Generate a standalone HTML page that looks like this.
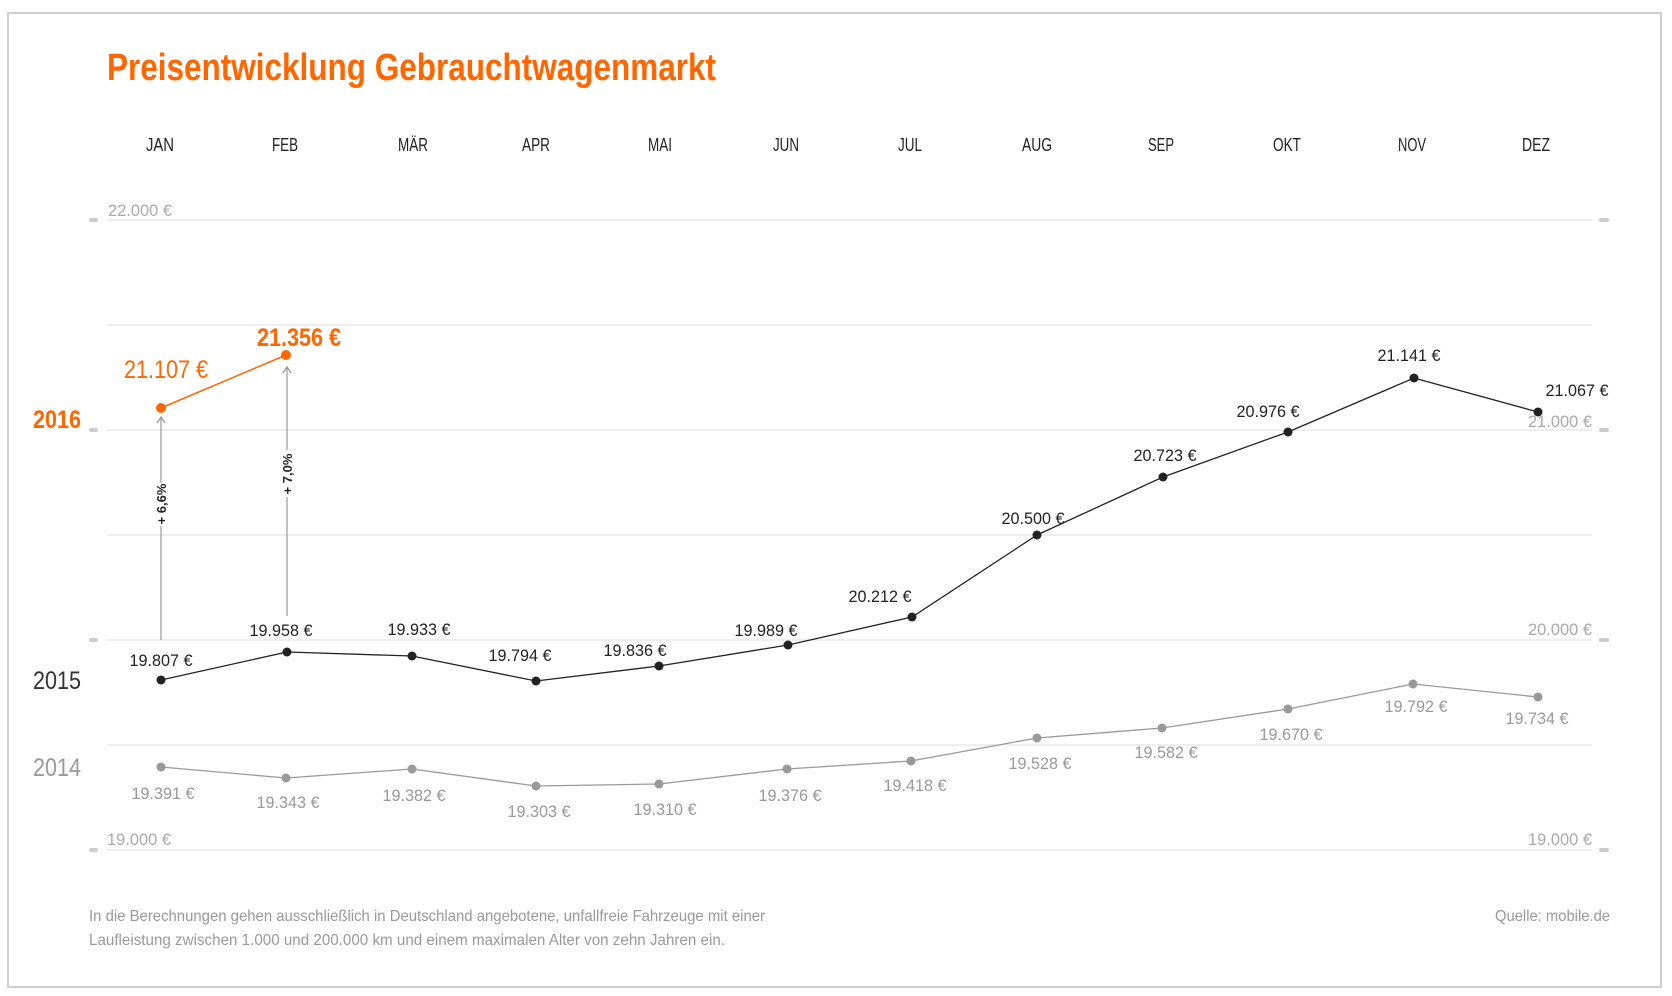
<!DOCTYPE html>
<html><head><meta charset="utf-8"><style>
html,body{margin:0;padding:0;background:#fff;}
svg{display:block;font-family:"Liberation Sans",sans-serif;}
</style></head><body>
<svg width="1672" height="996" viewBox="0 0 1672 996" xmlns="http://www.w3.org/2000/svg">
<rect x="8" y="13" width="1653" height="974" fill="#fff" stroke="#cfcfcf" stroke-width="2"/>
<text x="107" y="80" font-size="38" font-weight="bold" fill="#ff6600" textLength="609" lengthAdjust="spacingAndGlyphs">Preisentwicklung Gebrauchtwagenmarkt</text>
<g font-size="18" fill="#222" text-anchor="middle">
<text x="160" y="151" textLength="28" lengthAdjust="spacingAndGlyphs">JAN</text>
<text x="285" y="151" textLength="26" lengthAdjust="spacingAndGlyphs">FEB</text>
<text x="413" y="151" textLength="30" lengthAdjust="spacingAndGlyphs">MÄR</text>
<text x="536" y="151" textLength="28" lengthAdjust="spacingAndGlyphs">APR</text>
<text x="660" y="151" textLength="24" lengthAdjust="spacingAndGlyphs">MAI</text>
<text x="786" y="151" textLength="26" lengthAdjust="spacingAndGlyphs">JUN</text>
<text x="910" y="151" textLength="24" lengthAdjust="spacingAndGlyphs">JUL</text>
<text x="1037" y="151" textLength="30" lengthAdjust="spacingAndGlyphs">AUG</text>
<text x="1161" y="151" textLength="26" lengthAdjust="spacingAndGlyphs">SEP</text>
<text x="1287" y="151" textLength="28" lengthAdjust="spacingAndGlyphs">OKT</text>
<text x="1412" y="151" textLength="28" lengthAdjust="spacingAndGlyphs">NOV</text>
<text x="1536" y="151" textLength="28" lengthAdjust="spacingAndGlyphs">DEZ</text>
</g>
<g stroke="#e3e3e3" stroke-width="1.2">
<line x1="107" y1="220" x2="1592" y2="220"/><line x1="107" y1="325" x2="1592" y2="325"/>
<line x1="107" y1="430" x2="1592" y2="430"/><line x1="107" y1="535" x2="1592" y2="535"/>
<line x1="107" y1="640" x2="1592" y2="640"/><line x1="107" y1="745" x2="1592" y2="745"/>
<line x1="107" y1="850" x2="1592" y2="850"/>
</g>
<g stroke="#cccccc" stroke-width="4" stroke-linecap="round">
<line x1="91" y1="220" x2="96" y2="220"/><line x1="91" y1="430" x2="96" y2="430"/><line x1="91" y1="640" x2="96" y2="640"/><line x1="91" y1="850" x2="96" y2="850"/>
<line x1="1601" y1="220" x2="1607" y2="220"/><line x1="1601" y1="430" x2="1607" y2="430"/><line x1="1601" y1="640" x2="1607" y2="640"/><line x1="1601" y1="850" x2="1607" y2="850"/>
</g>
<g font-size="17" fill="#aaa">
<text x="108" y="216" textLength="64" lengthAdjust="spacingAndGlyphs">22.000 €</text>
<text x="107" y="845" textLength="64" lengthAdjust="spacingAndGlyphs">19.000 €</text>
<text x="1592" y="427" text-anchor="end" textLength="64" lengthAdjust="spacingAndGlyphs">21.000 €</text>
<text x="1592" y="635" text-anchor="end" textLength="64" lengthAdjust="spacingAndGlyphs">20.000 €</text>
<text x="1592" y="845" text-anchor="end" textLength="64" lengthAdjust="spacingAndGlyphs">19.000 €</text>
</g>
<text x="33" y="428" font-size="25" font-weight="bold" fill="#ff6600" textLength="48" lengthAdjust="spacingAndGlyphs">2016</text>
<text x="33" y="689" font-size="25" fill="#333" textLength="48" lengthAdjust="spacingAndGlyphs">2015</text>
<text x="33" y="776" font-size="25" fill="#999" textLength="48" lengthAdjust="spacingAndGlyphs">2014</text>
<g stroke="#999" stroke-width="1.2" fill="none">
<line x1="161" y1="640" x2="161" y2="526"/><line x1="161" y1="483" x2="161" y2="418"/>
<polyline points="157,423 161,417 165,423"/>
<line x1="287" y1="616" x2="287" y2="497"/><line x1="287" y1="450" x2="287" y2="368"/>
<polyline points="283,373 287,367 291,373"/>
</g>
<text transform="translate(166,504) rotate(-90)" font-size="13" font-weight="bold" fill="#222" text-anchor="middle">+ 6,6%</text>
<text transform="translate(292,474) rotate(-90)" font-size="13" font-weight="bold" fill="#222" text-anchor="middle">+ 7,0%</text>
<!-- 2014 -->
<polyline fill="none" stroke="#999" stroke-width="1.3" points="161,767 286,778 412,769 536,786 659,784 787,769 911,761 1037,738 1162,728 1288,709 1413,684 1538,697"/>
<g fill="#999"><circle cx="161" cy="767" r="4.5"/><circle cx="286" cy="778" r="4.5"/><circle cx="412" cy="769" r="4.5"/><circle cx="536" cy="786" r="4.5"/><circle cx="659" cy="784" r="4.5"/><circle cx="787" cy="769" r="4.5"/><circle cx="911" cy="761" r="4.5"/><circle cx="1037" cy="738" r="4.5"/><circle cx="1162" cy="728" r="4.5"/><circle cx="1288" cy="709" r="4.5"/><circle cx="1413" cy="684" r="4.5"/><circle cx="1538" cy="697" r="4.5"/></g>
<g font-size="17" fill="#999" text-anchor="middle">
<text x="163" y="799" textLength="63" lengthAdjust="spacingAndGlyphs">19.391 €</text>
<text x="288" y="808" textLength="63" lengthAdjust="spacingAndGlyphs">19.343 €</text>
<text x="414" y="801" textLength="63" lengthAdjust="spacingAndGlyphs">19.382 €</text>
<text x="539" y="817" textLength="63" lengthAdjust="spacingAndGlyphs">19.303 €</text>
<text x="665" y="815" textLength="63" lengthAdjust="spacingAndGlyphs">19.310 €</text>
<text x="790" y="801" textLength="63" lengthAdjust="spacingAndGlyphs">19.376 €</text>
<text x="915" y="791" textLength="63" lengthAdjust="spacingAndGlyphs">19.418 €</text>
<text x="1040" y="769" textLength="63" lengthAdjust="spacingAndGlyphs">19.528 €</text>
<text x="1166" y="758" textLength="63" lengthAdjust="spacingAndGlyphs">19.582 €</text>
<text x="1291" y="740" textLength="63" lengthAdjust="spacingAndGlyphs">19.670 €</text>
<text x="1416" y="712" textLength="63" lengthAdjust="spacingAndGlyphs">19.792 €</text>
<text x="1537" y="724" textLength="63" lengthAdjust="spacingAndGlyphs">19.734 €</text>
</g>
<!-- 2015 -->
<polyline fill="none" stroke="#222" stroke-width="1.3" points="161,680 287,652 412,656 536,681 659,666 788,645 912,617 1037,535 1163,477 1288,432 1414,378 1538,412"/>
<g fill="#222"><circle cx="161" cy="680" r="4.5"/><circle cx="287" cy="652" r="4.5"/><circle cx="412" cy="656" r="4.5"/><circle cx="536" cy="681" r="4.5"/><circle cx="659" cy="666" r="4.5"/><circle cx="788" cy="645" r="4.5"/><circle cx="912" cy="617" r="4.5"/><circle cx="1037" cy="535" r="4.5"/><circle cx="1163" cy="477" r="4.5"/><circle cx="1288" cy="432" r="4.5"/><circle cx="1414" cy="378" r="4.5"/><circle cx="1538" cy="412" r="4.5"/></g>
<g font-size="17" fill="#222" text-anchor="middle">
<text x="161" y="666" textLength="63" lengthAdjust="spacingAndGlyphs">19.807 €</text>
<text x="281" y="636" textLength="63" lengthAdjust="spacingAndGlyphs">19.958 €</text>
<text x="419" y="635" textLength="63" lengthAdjust="spacingAndGlyphs">19.933 €</text>
<text x="520" y="661" textLength="63" lengthAdjust="spacingAndGlyphs">19.794 €</text>
<text x="635" y="656" textLength="63" lengthAdjust="spacingAndGlyphs">19.836 €</text>
<text x="766" y="636" textLength="63" lengthAdjust="spacingAndGlyphs">19.989 €</text>
<text x="880" y="602" textLength="63" lengthAdjust="spacingAndGlyphs">20.212 €</text>
<text x="1033" y="524" textLength="63" lengthAdjust="spacingAndGlyphs">20.500 €</text>
<text x="1165" y="461" textLength="63" lengthAdjust="spacingAndGlyphs">20.723 €</text>
<text x="1268" y="417" textLength="63" lengthAdjust="spacingAndGlyphs">20.976 €</text>
<text x="1409" y="361" textLength="63" lengthAdjust="spacingAndGlyphs">21.141 €</text>
<text x="1577" y="396" textLength="63" lengthAdjust="spacingAndGlyphs">21.067 €</text>
</g>
<line x1="161" y1="408" x2="286" y2="355" stroke="#ff6600" stroke-width="1.5"/>
<circle cx="161" cy="408" r="5" fill="#ff6600"/><circle cx="286" cy="355" r="5" fill="#ff6600"/>
<text x="166" y="378" font-size="25" fill="#ff6600" text-anchor="middle" textLength="84" lengthAdjust="spacingAndGlyphs">21.107 €</text>
<text x="299" y="346" font-size="25" font-weight="bold" fill="#ff6600" text-anchor="middle" textLength="84" lengthAdjust="spacingAndGlyphs">21.356 €</text>
<g font-size="16" fill="#999">
<text x="89" y="921" textLength="676" lengthAdjust="spacingAndGlyphs">In die Berechnungen gehen ausschließlich in Deutschland angebotene, unfallfreie Fahrzeuge mit einer</text>
<text x="89" y="945" textLength="636" lengthAdjust="spacingAndGlyphs">Laufleistung zwischen 1.000 und 200.000 km und einem maximalen Alter von zehn Jahren ein.</text>
<text x="1610" y="921" text-anchor="end" textLength="115" lengthAdjust="spacingAndGlyphs">Quelle: mobile.de</text>
</g>
</svg>
</body></html>
